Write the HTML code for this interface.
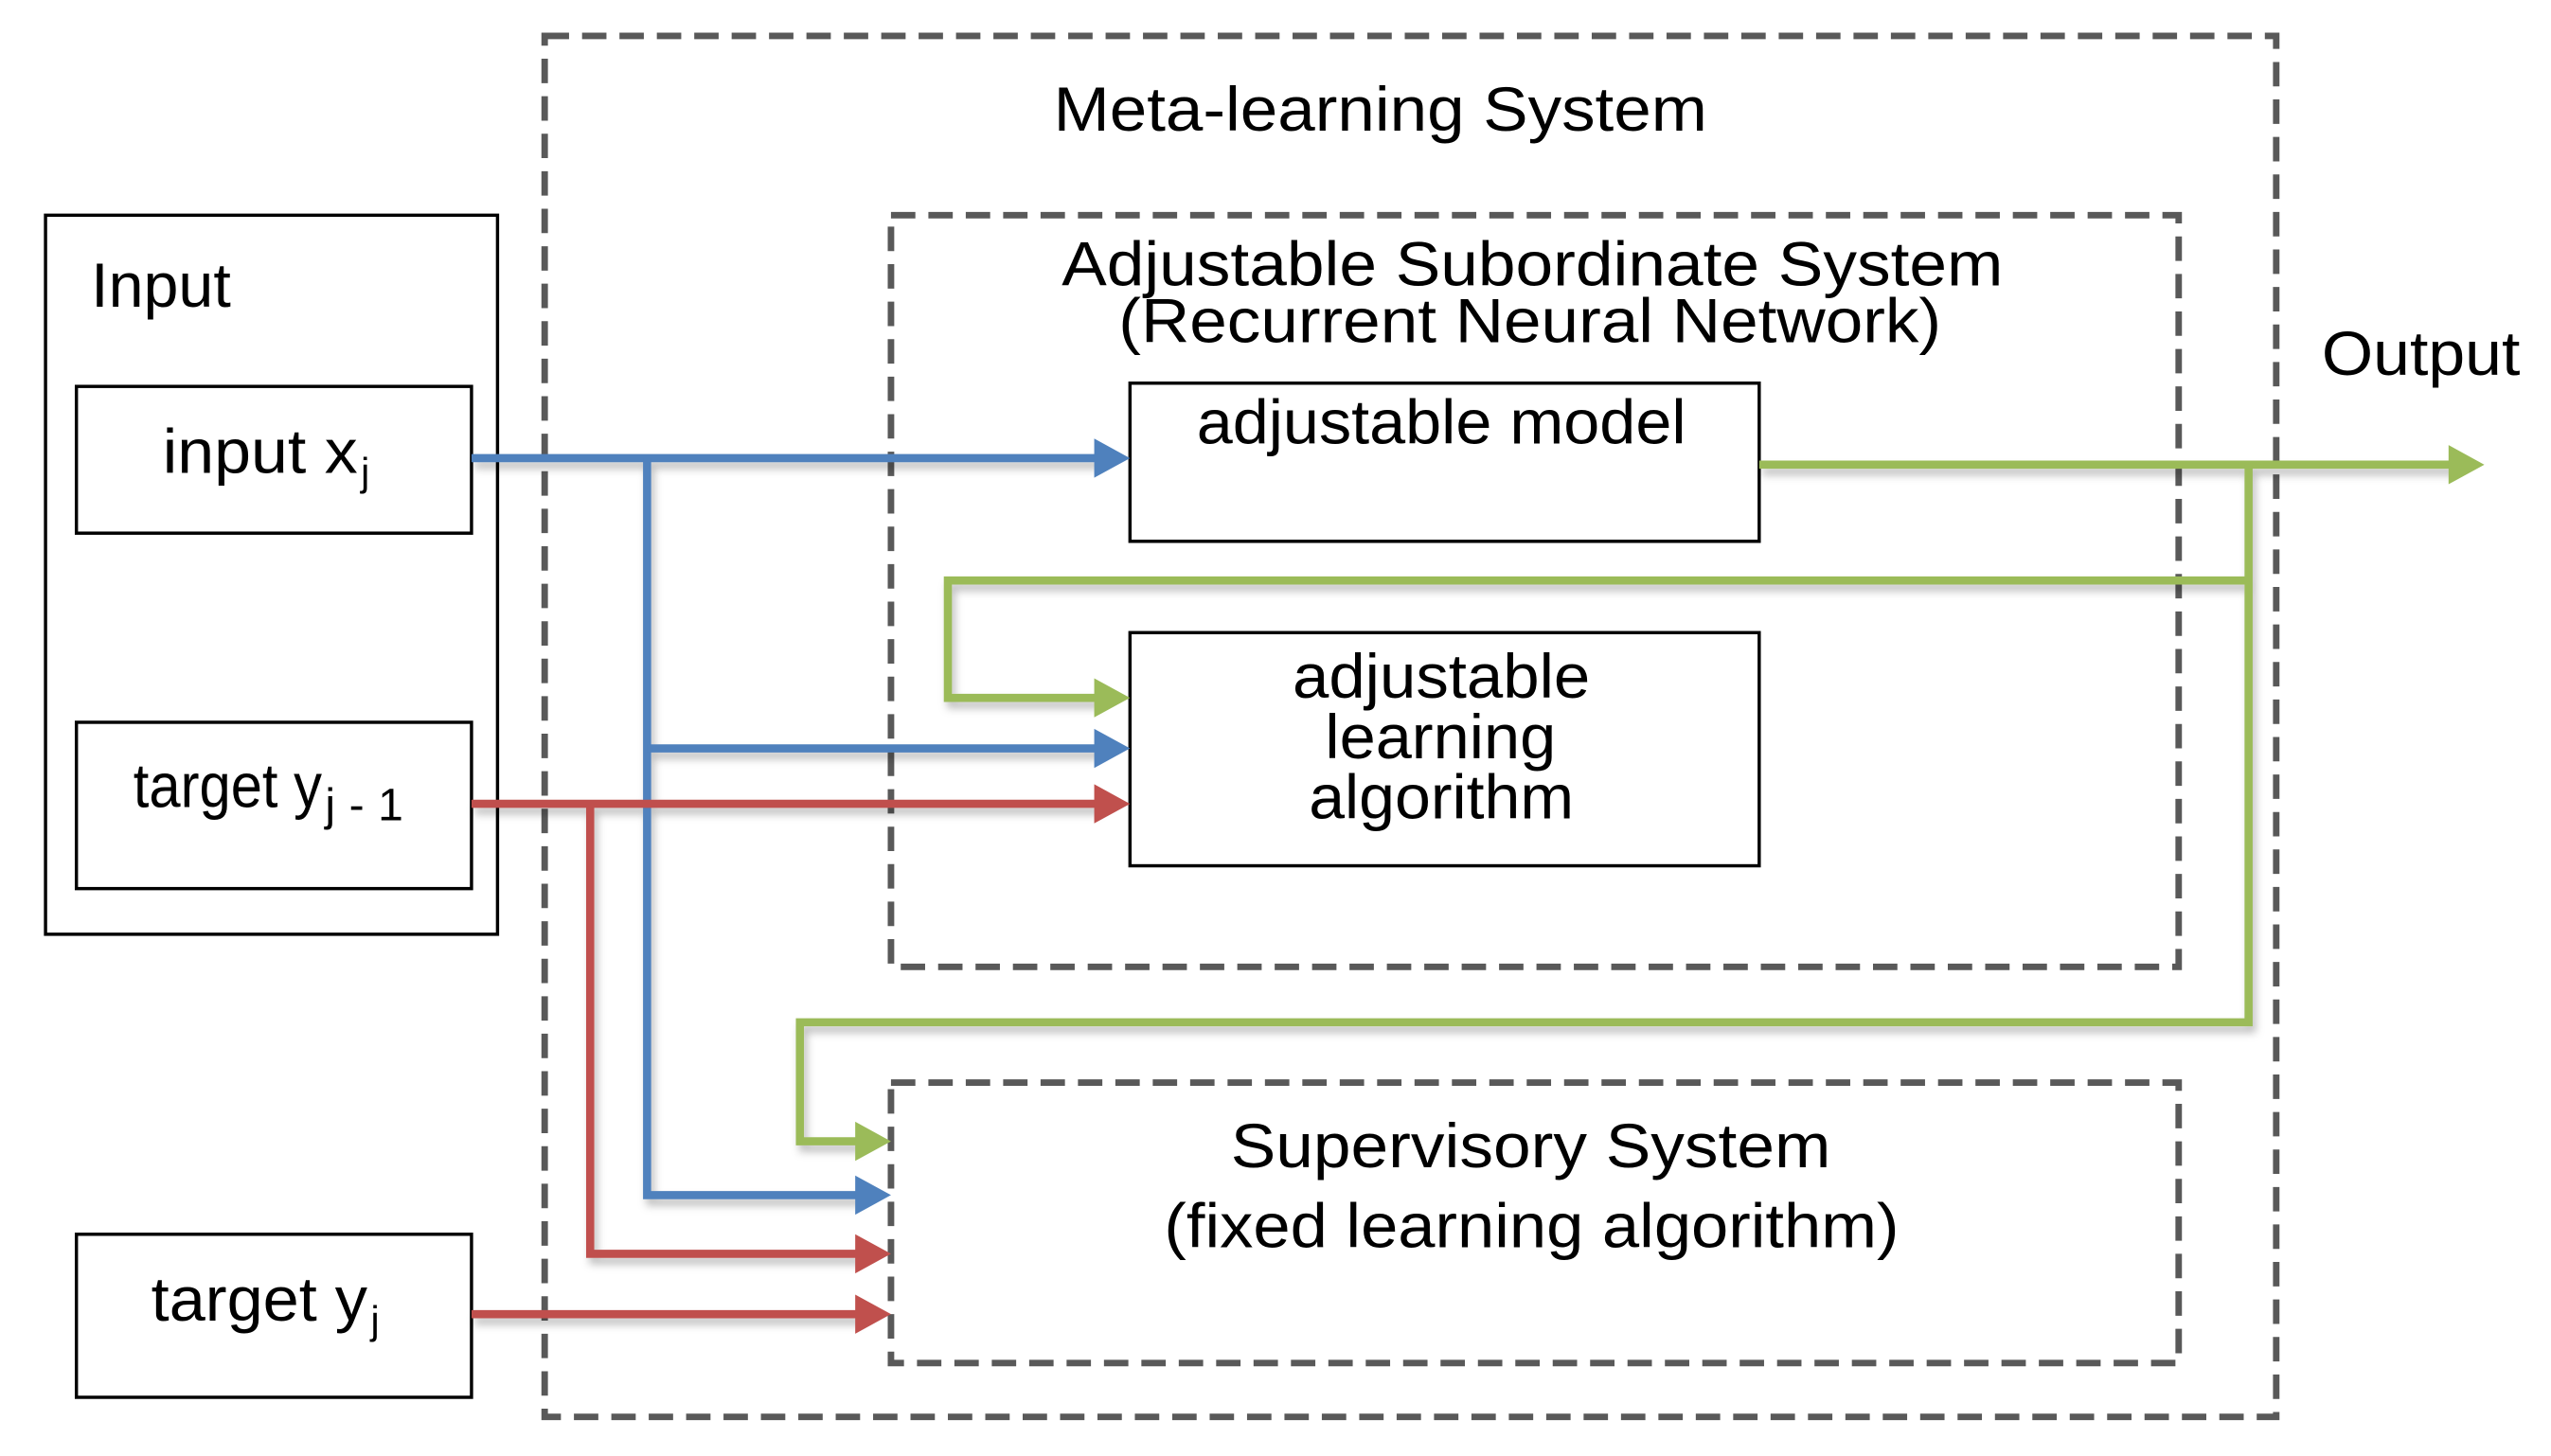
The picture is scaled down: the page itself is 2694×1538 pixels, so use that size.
<!DOCTYPE html>
<html><head><meta charset="utf-8"><style>html,body{margin:0;padding:0;background:#fff}svg{display:block}</style></head>
<body>
<svg width="2694" height="1538" viewBox="0 0 1569 893" preserveAspectRatio="none" xmlns="http://www.w3.org/2000/svg" font-family="'Liberation Sans', Arial, sans-serif" fill="#000">
<defs>
<filter id="sh" x="-5%" y="-5%" width="110%" height="130%"><feDropShadow dx="2" dy="4" stdDeviation="2.5" flood-color="#000" flood-opacity="0.25"/></filter>
</defs>
<rect x="0" y="0" width="1569" height="893" fill="#fff"/>
<g fill="none" stroke="#595959" stroke-width="4" stroke-dasharray="15 8">
<rect x="335" y="22" width="1065" height="847"/>
<rect x="548" y="132" width="792" height="461"/>
<rect x="548" y="664" width="792" height="172"/>
</g>
<g fill="none" stroke="#000" stroke-width="2">
<rect x="28" y="132" width="278" height="441"/>
<rect x="47" y="237" width="243" height="90"/>
<rect x="47" y="443" width="243" height="102"/>
<rect x="47" y="757" width="243" height="100"/>
<rect x="695" y="235" width="387" height="97"/>
<rect x="695" y="388" width="387" height="143"/>
</g>
<g fill="none" stroke-width="5" stroke-linejoin="miter" filter="url(#sh)">
<g stroke="#4f81bd">
<path d="M290 281 H675"/>
<path d="M398 281 V733 H528"/>
<path d="M398 459 H675"/>
</g>
<g stroke="#c0504d">
<path d="M290 493 H675"/>
<path d="M363 493 V769 H528"/>
<path d="M290 806 H528"/>
</g>
<g stroke="#9bbb59">
<path d="M1082 285 H1508"/>
<path d="M1383 285 V627 H492 V700 H528"/>
<path d="M1383 356 H583 V428 H675"/>
</g>
</g>
<g>
<polygon points="673,269 695,281 673,293" fill="#4f81bd"/>
<polygon points="673,447 695,459 673,471" fill="#4f81bd"/>
<polygon points="526,721 548,733 526,745" fill="#4f81bd"/>
<polygon points="673,481 695,493 673,505" fill="#c0504d"/>
<polygon points="526,757 548,769 526,781" fill="#c0504d"/>
<polygon points="526,794 548,806 526,818" fill="#c0504d"/>
<polygon points="1506,273 1528,285 1506,297" fill="#9bbb59"/>
<polygon points="673,416 695,428 673,440" fill="#9bbb59"/>
<polygon points="526,688 548,700 526,712" fill="#9bbb59"/>
</g>
<g font-size="38">
<text x="648" y="80" textLength="402" lengthAdjust="spacingAndGlyphs">Meta-learning System</text>
<text x="56" y="188" textLength="86" lengthAdjust="spacingAndGlyphs">Input</text>
<text x="100" y="290" textLength="120" lengthAdjust="spacingAndGlyphs">input x</text>
<text x="222" y="298" font-size="24">j</text>
<text x="82" y="495" textLength="116" lengthAdjust="spacingAndGlyphs">target y</text>
<text x="200" y="503" font-size="28" textLength="48" lengthAdjust="spacing">j-1</text>
<text x="93" y="810" textLength="133" lengthAdjust="spacingAndGlyphs">target y</text>
<text x="228" y="818" font-size="24">j</text>
<text x="653" y="175" textLength="579" lengthAdjust="spacingAndGlyphs">Adjustable Subordinate System</text>
<text x="688" y="210" textLength="506" lengthAdjust="spacingAndGlyphs">(Recurrent Neural Network)</text>
<text x="736" y="272" textLength="301" lengthAdjust="spacingAndGlyphs">adjustable model</text>
<text x="795" y="428" textLength="183" lengthAdjust="spacingAndGlyphs">adjustable</text>
<text x="815" y="465" textLength="142" lengthAdjust="spacingAndGlyphs">learning</text>
<text x="805" y="502" textLength="163" lengthAdjust="spacingAndGlyphs">algorithm</text>
<text x="757" y="716" textLength="369" lengthAdjust="spacingAndGlyphs">Supervisory System</text>
<text x="716" y="765" textLength="452" lengthAdjust="spacingAndGlyphs">(fixed learning algorithm)</text>
<text x="1428" y="230" textLength="122" lengthAdjust="spacingAndGlyphs">Output</text>
</g>
</svg>
</body></html>
